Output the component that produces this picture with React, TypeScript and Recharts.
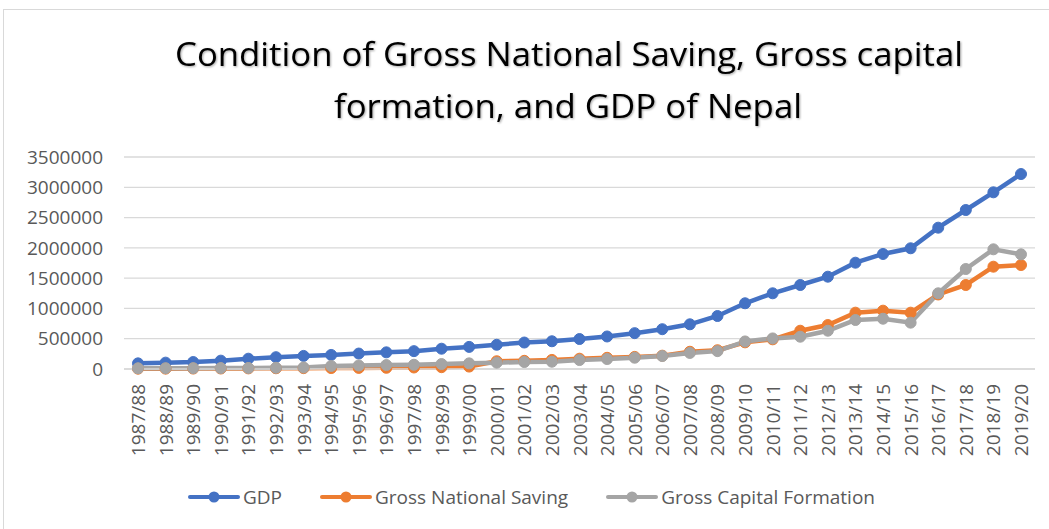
import React from "react";
import {
  LineChart,
  Line,
  XAxis,
  YAxis,
  CartesianGrid,
  Legend,
} from "recharts";

const years = [
  "1987/88", "1988/89", "1989/90", "1990/91", "1991/92", "1992/93", "1993/94",
  "1994/95", "1995/96", "1996/97", "1997/98", "1998/99", "1999/00", "2000/01",
  "2001/02", "2002/03", "2003/04", "2004/05", "2005/06", "2006/07", "2007/08",
  "2008/09", "2009/10", "2010/11", "2011/12", "2012/13", "2013/14", "2014/15",
  "2015/16", "2016/17", "2017/18", "2018/19", "2019/20",
];

const gdp = [
  93000, 105000, 115000, 138000, 170000, 195000, 216000, 232000, 255000, 275000,
  295000, 335000, 365000, 400000, 437000, 458000, 495000, 537000, 592000, 657000,
  738000, 875000, 1085000, 1250000, 1387000, 1524000, 1755000, 1899000, 1993000,
  2333000, 2625000, 2917000, 3219000,
];

const nationalSaving = [
  5000, 6000, 7000, 8000, 10000, 12000, 14000, 16000, 18000, 20000, 25000,
  30000, 40000, 128000, 135000, 150000, 170000, 185000, 200000, 220000, 285000,
  310000, 440000, 490000, 632000, 726000, 930000, 963000, 930000, 1230000,
  1387000, 1689000, 1717000,
];

const capitalFormation = [
  12000, 13000, 14000, 15000, 17000, 20000, 25000, 50000, 58000, 65000, 70000,
  82000, 93000, 105000, 115000, 120000, 148000, 165000, 186000, 214000, 265000,
  295000, 455000, 505000, 533000, 632000, 809000, 830000, 765000, 1250000,
  1651000, 1976000, 1893000,
];

const seriesNames = ["GDP", "Gross National Saving", "Gross Capital Formation"];

const yTicks = [0, 500000, 1000000, 1500000, 2000000, 2500000, 3000000, 3500000];

const data = years.map((year, i) => ({
  year,
  gdp: gdp[i],
  gns: nationalSaving[i],
  gcf: capitalFormation[i],
}));

const FONT = "'Open Sans', 'Noto Sans', sans-serif";
const TICK = "#595959";

const XTick = (props: any) => {
  const { x, y, payload } = props;
  return (
    <text
      x={x}
      y={y}
      transform={`rotate(-90, ${x}, ${y})`}
      textAnchor="end"
      dominantBaseline="central"
      fill={TICK}
      fontSize={19}
      fontFamily={FONT}
    >
      {payload.value}
    </text>
  );
};

const LegendContent = (props: any) => {
  const items = [...(props.payload || [])].sort(
    (a: any, b: any) => seriesNames.indexOf(a.value) - seriesNames.indexOf(b.value)
  );
  return (
    <div
      style={{
        display: "flex",
        justifyContent: "center",
        alignItems: "center",
        height: 28,
        marginLeft: 14,
        fontFamily: FONT,
        fontSize: 19,
        color: TICK,
      }}
    >
      {items.map((p: any, i: number) => (
        <div
          key={p.value}
          style={{ display: "flex", alignItems: "center", marginLeft: i ? 38 : 0 }}
        >
          <svg width={52} height={14} style={{ marginRight: 3 }}>
            <line x1={2} y1={7} x2={50} y2={7} stroke={p.color} strokeWidth={4} strokeLinecap="round" />
            <circle cx={26} cy={7} r={5.5} fill={p.color} />
          </svg>
          <span>{p.value}</span>
        </div>
      ))}
    </div>
  );
};

export default function App() {
  return (
    <div style={{ position: "absolute", left: 0, top: 0, width: 1049, height: 529, background: "#fff", overflow: "hidden" }}>
      <div
        style={{
          position: "absolute",
          left: 3,
          top: 9,
          width: 1100,
          height: 600,
          borderLeft: "1.5px solid #D9D9D9",
          borderTop: "1.5px solid #D9D9D9",
        }}
      />
      <svg width={1049} height={140} style={{ position: "absolute", left: 0, top: 0 }}>
        <g style={{ filter: "drop-shadow(1.5px 1.5px 1px rgba(0,0,0,0.35))" }} fontFamily={FONT} fontSize={33} fill="#000">
          <text x={175} y={66} textLength={788} lengthAdjust="spacingAndGlyphs">
            Condition of Gross National Saving, Gross capital
          </text>
          <text x={334} y={118} textLength={468} lengthAdjust="spacingAndGlyphs">
            formation, and GDP of Nepal
          </text>
        </g>
      </svg>
      <div style={{ position: "absolute", left: 0, top: 0 }}>
        <LineChart
          width={1049}
          height={529}
          data={data}
          margin={{ top: 157, right: 14, left: 14, bottom: 18 }}
        >
          <CartesianGrid vertical={false} stroke="#D9D9D9" strokeWidth={1.3} />
          <XAxis
            dataKey="year"
            interval={0}
            padding={{ left: 14, right: 14 }}
            height={114}
            tickSize={0}
            tickMargin={15}
            tick={<XTick />}
            axisLine={{ stroke: "#D9D9D9", strokeWidth: 1.3 }}
            tickLine={false}
          />
          <YAxis
            width={110}
            domain={[0, 3500000]}
            ticks={yTicks}
            interval={0}
            tickSize={0}
            tickMargin={21}
            axisLine={false}
            tickLine={false}
            tick={{ fill: TICK, fontSize: 19, fontFamily: FONT }}
          />
          <Legend verticalAlign="bottom" content={<LegendContent />} />
          <Line
            name={seriesNames[0]}
            dataKey="gdp"
            stroke="#4472C4"
            strokeWidth={4.5}
            dot={{ r: 5.5, fill: "#4472C4", stroke: "#4472C4", strokeWidth: 1 }}
            isAnimationActive={false}
          />
          <Line
            name={seriesNames[1]}
            dataKey="gns"
            stroke="#ED7D31"
            strokeWidth={4.5}
            dot={{ r: 5.5, fill: "#ED7D31", stroke: "#ED7D31", strokeWidth: 1 }}
            isAnimationActive={false}
          />
          <Line
            name={seriesNames[2]}
            dataKey="gcf"
            stroke="#A5A5A5"
            strokeWidth={4.5}
            dot={{ r: 5.5, fill: "#A5A5A5", stroke: "#A5A5A5", strokeWidth: 1 }}
            isAnimationActive={false}
          />
        </LineChart>
      </div>
    </div>
  );
}
